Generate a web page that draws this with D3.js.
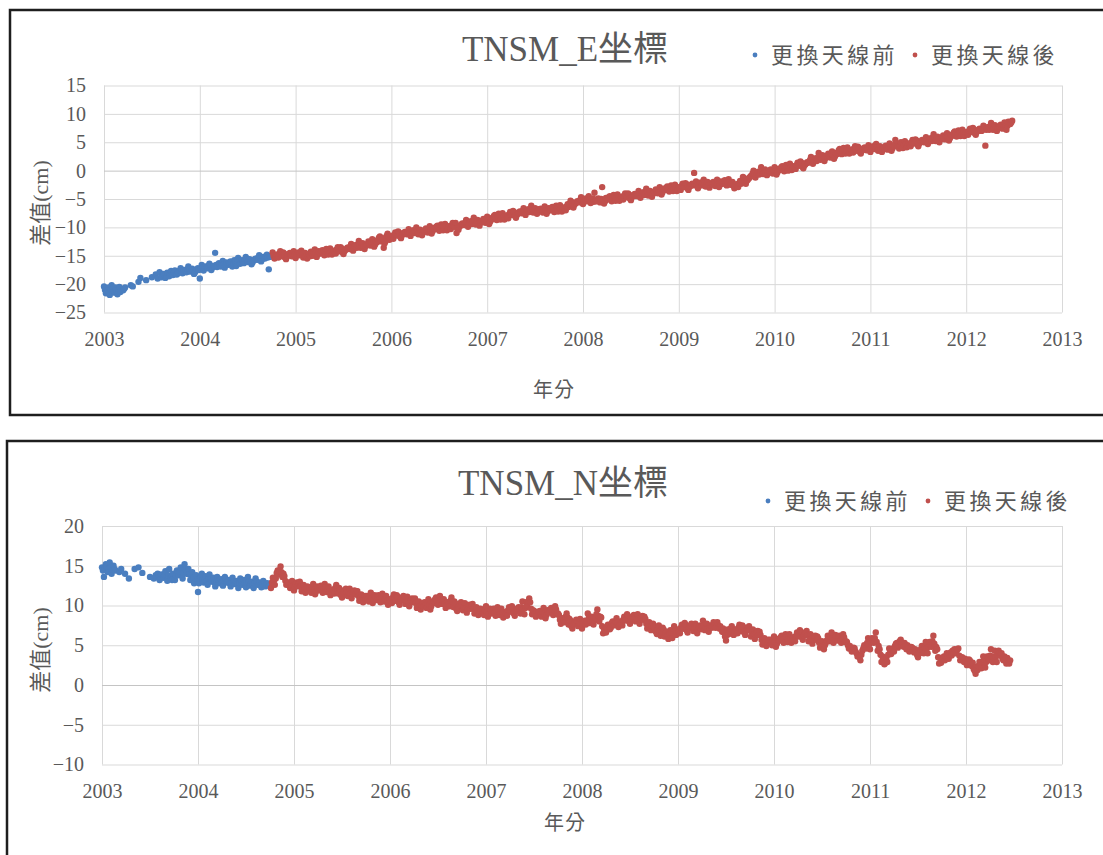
<!DOCTYPE html>
<html>
<head>
<meta charset="utf-8">
<script src="https://cdn.jsdelivr.net/npm/d3@7"></script>
<style>
  body { margin: 0; background: #ffffff; }
  svg { display: block; }
</style>
</head>
<body>
<svg id="chart" width="1103" height="855"></svg>
<script>
// ---- Axis ticks and labels ----
const yearTicks = [2003, 2004, 2005, 2006, 2007, 2008, 2009, 2010, 2011, 2012, 2013];
const eTicks = [-25, -20, -15, -10, -5, 0, 5, 10, 15];
const nTicks = [-10, -5, 0, 5, 10, 15, 20];
const seriesNames = ["更換天線前", "更換天線後"];
const panelTitles = ["TNSM_E坐標", "TNSM_N坐標"];
const yAxisTitle = "差值(cm)";
const xAxisTitle = "年分";

// ---- Solutions resampled every 0.01 yr (null = no solution) ----
const sampleStep = 0.01;
const beforeStart = 2003.00;   // first epoch of the old antenna
const afterStart = 2004.76;    // first epoch after the antenna change

// E component (cm), one row = 0.2 yr
const eBefore = [
  -20.4,-21.0,-21.6,-21.2,-20.9,-20.6,-21.9,-21.0,-20.2,-20.8,-21.3,-21.5,-20.6,-21.1,-21.8,-21.2,-20.5,-21.4,null,null,
  -21.1,-20.8,-20.6,null,null,null,null,null,-20.2,null,-20.4,null,null,null,null,null,-19.6,null,-18.9,null,
  null,null,null,null,-19.3,null,null,null,null,null,-18.8,null,null,null,-18.3,null,-19.0,null,-17.9,null,
  -18.8,-18.5,-18.2,null,-18.9,-18.5,-18.0,null,-18.6,-18.1,-17.7,null,-18.4,-18.0,-17.6,null,-18.3,-18.1,-17.9,-17.6,
  -17.2,-17.7,-18.1,-17.8,-17.5,-17.6,-17.9,-17.4,-16.9,-17.3,-17.8,-17.6,-17.3,-17.7,-18.2,-17.9,-17.6,-17.4,-17.2,-17.5,
  -19.0,-17.3,-16.6,-17.1,-17.6,-17.2,-16.9,-17.1,-17.2,-16.8,-16.4,-16.9,-17.5,-17.1,-16.8,-16.9,-14.5,-16.6,-17.0,-16.7,
  -16.3,-16.6,-16.9,-16.4,-15.9,-16.5,-17.1,-16.6,-16.2,-16.4,-16.6,-16.3,-16.0,-16.5,-16.9,-16.3,-15.8,-16.2,-16.8,-16.2,
  -15.4,-15.9,-16.4,-16.0,-15.8,-16.1,-16.3,-15.7,-15.2,-15.6,-16.1,-15.8,-15.6,-16.1,-16.5,-16.2,-15.9,-15.7,-15.5,-15.6,
  -15.7,-15.3,-14.9,-15.5,-16.0,-15.6,-15.2,-15.3,-15.5,-15.1,-14.8,-15.3,-17.4,-15.2,-15.1
];
const eAfter = [
  -14.4,-15.0,-15.5,-15.2,-14.8,-15.1,-15.3,-14.6,-14.2,-14.7,-15.1,-14.4,-14.6,-15.3,-15.6,-15.1,-14.9,-14.7,-14.5,-14.9,
  -15.1,-14.7,-14.2,-14.8,-15.4,-14.9,-14.6,-14.4,-14.9,-14.5,-14.1,-14.7,-15.3,-15.0,-14.5,-15.1,-15.5,-15.0,-14.7,-15.1,
  -14.3,-14.7,-15.0,-14.4,-13.9,-14.6,-15.2,-14.8,-14.2,-14.4,-14.6,-14.2,-14.0,-14.5,-14.9,-14.3,-13.8,-14.2,-14.8,-14.1,
  -13.7,-14.3,-14.8,-14.5,-14.1,-14.4,-14.6,-13.9,-13.5,-14.0,-14.2,-13.5,-13.7,-14.4,-14.7,-14.2,-14.0,-13.8,-13.6,-13.6,
  -13.8,-13.4,-12.9,-13.5,-14.1,-13.6,-13.3,-13.1,-13.6,-13.2,-12.4,-13.0,-13.6,-13.3,-12.8,-13.4,-13.8,-13.3,-13.0,-13.1,
  -12.5,-12.9,-13.2,-12.6,-12.1,-12.8,-13.4,-13.0,-12.4,-12.6,-12.2,-11.8,-11.6,-12.1,-12.5,-11.9,-13.6,-12.8,-12.4,-11.5,
  -11.1,-11.7,-12.2,-11.9,-11.5,-11.8,-12.0,-11.3,-10.9,-11.4,-11.4,-10.7,-10.9,-11.6,-11.9,-11.4,-11.2,-11.0,-10.8,-11.0,
  -11.2,-10.8,-10.3,-10.9,-11.5,-11.0,-10.7,-10.5,-11.0,-10.6,-10.0,-10.6,-11.2,-10.9,-10.4,-11.0,-11.4,-10.9,-10.6,-10.6,
  -10.2,-10.6,-10.9,-10.3,-9.8,-10.5,-11.1,-10.7,-10.1,-10.3,-10.3,-9.9,-9.7,-10.2,-10.6,-10.0,-9.5,-9.9,-10.5,-10.0,
  -9.4,-10.0,-10.5,-10.2,-9.8,-10.1,-10.3,-9.6,-9.2,-9.7,-9.9,-9.2,-11.0,-10.1,-10.4,-9.9,-9.7,-9.5,-9.3,-9.4,
  -9.6,-9.2,-8.7,-9.3,-9.9,-9.4,-9.1,-8.9,-9.4,-9.0,-8.3,-8.9,-9.5,-9.2,-8.7,-9.3,-9.7,-9.2,-8.9,-8.9,
  -8.5,-8.9,-9.2,-8.6,-8.1,-8.8,-9.4,-9.0,-8.4,-8.6,-8.4,-8.0,-7.8,-8.3,-8.7,-8.1,-7.6,-8.0,-8.6,-8.0,
  -7.5,-8.1,-8.6,-8.3,-7.9,-8.2,-8.4,-7.7,-7.3,-7.8,-7.8,-7.1,-7.3,-8.0,-8.3,-7.8,-7.6,-7.4,-7.2,-7.3,
  -7.5,-7.1,-6.6,-7.2,-7.8,-7.3,-7.0,-6.8,-7.3,-6.9,-6.2,-6.8,-7.4,-7.1,-6.6,-7.2,-7.6,-7.1,-6.8,-7.0,
  -6.7,-7.1,-7.4,-6.8,-6.3,-7.0,-7.6,-7.2,-6.6,-6.8,-7.0,-6.6,-6.4,-6.9,-7.3,-6.7,-6.2,-6.6,-7.2,-6.5,
  -6.1,-6.7,-7.2,-6.9,-6.5,-6.8,-7.0,-6.3,-5.9,-6.4,-6.0,-5.3,-5.5,-6.2,-6.5,-6.0,-5.8,-5.6,-5.4,-5.5,
  -5.6,-5.2,-4.7,-5.3,-5.9,-5.4,-5.1,-4.9,-5.4,-5.0,-4.5,-5.1,-5.7,-5.4,-4.9,-5.5,-3.9,-5.4,-5.1,-5.4,
  -4.9,-5.3,-5.6,-5.0,-2.9,-5.2,-5.8,-5.4,-4.8,-5.0,-5.1,-4.7,-4.5,-5.0,-5.4,-4.8,-4.3,-4.7,-5.3,-4.8,
  -4.2,-4.8,-5.3,-5.0,-4.6,-4.9,-5.1,-4.4,-4.0,-4.5,-4.7,-4.0,-4.2,-4.9,-5.2,-4.7,-4.5,-4.3,-4.1,-4.3,
  -4.5,-4.1,-3.6,-4.2,-4.8,-4.3,-4.0,-3.8,-4.3,-3.9,-3.2,-3.8,-4.4,-4.1,-3.6,-4.2,-4.6,-4.1,-3.8,-3.8,
  -3.3,-3.7,-4.0,-3.4,-2.9,-3.6,-4.2,-3.8,-3.2,-3.4,-3.4,-3.0,-2.8,-3.3,-3.7,-3.1,-2.6,-3.0,-3.6,-3.1,
  -2.5,-3.1,-3.6,-3.3,-2.9,-3.2,-3.4,-2.7,-2.3,-2.8,-2.9,-2.2,-2.4,-3.1,-3.4,-2.9,-2.7,-2.5,-2.3,-2.6,
  -0.4,-2.4,-1.9,-2.5,-3.1,-2.6,-2.3,-2.1,-2.6,-2.2,-1.6,-2.2,-2.8,-2.5,-2.0,-2.6,-3.0,-2.5,-2.2,-2.4,
  -2.0,-2.4,-2.7,-2.1,-1.6,-2.3,-2.9,-2.5,-1.9,-2.1,-2.3,-1.9,-1.7,-2.2,-2.6,-2.0,-1.5,-1.9,-2.5,-2.2,
  -2.0,-2.6,-3.1,-2.8,-2.4,-2.7,-2.9,-2.2,-1.8,-2.3,-1.8,-1.1,-1.3,-2.0,-2.3,-1.8,-1.6,-1.4,-1.2,-1.0,
  -0.9,-0.5,0.0,-0.6,-1.2,-0.7,-0.4,-0.2,-0.7,-0.3,0.6,0.0,-0.6,-0.3,0.2,-0.4,-0.8,-0.3,0.0,-0.2,
  0.2,-0.2,-0.5,0.1,0.6,-0.1,-0.7,-0.3,0.3,0.1,0.2,0.6,0.8,0.3,-0.1,0.5,1.0,0.6,0.0,0.6,
  1.2,0.6,0.1,0.4,0.8,0.5,0.3,1.0,1.4,0.9,0.9,1.6,1.4,0.7,0.4,0.9,1.1,1.3,1.5,1.4,
  1.5,1.9,2.4,1.8,1.2,1.7,2.0,2.2,1.7,2.1,3.1,2.5,1.9,2.2,2.7,2.1,1.7,2.2,2.5,2.6,
  3.0,2.6,2.3,2.9,3.4,2.7,2.1,2.5,3.1,2.9,3.2,3.6,3.8,3.3,2.9,3.5,4.0,3.6,3.0,3.5,
  4.1,3.5,3.0,3.3,3.7,3.4,3.2,3.9,4.3,3.8,3.5,4.2,4.0,3.3,3.0,3.5,3.7,3.9,4.1,3.8,
  3.6,4.0,4.5,3.9,3.3,3.8,4.1,4.3,3.8,4.2,4.7,4.1,3.5,3.8,4.3,3.7,3.3,3.8,4.1,3.9,
  4.4,4.0,3.7,4.3,4.8,4.1,3.5,3.9,4.5,4.3,5.4,4.6,4.8,4.3,3.9,4.5,5.0,4.6,4.0,4.6,
  5.2,4.6,4.1,4.4,4.8,4.5,4.3,5.0,5.4,4.9,4.8,5.5,5.3,4.6,4.3,4.8,5.0,5.2,5.4,5.2,
  5.0,5.4,5.9,5.3,4.7,5.2,5.5,5.7,5.2,5.6,6.4,5.8,5.2,5.5,6.0,5.4,5.0,5.5,5.8,5.7,
  6.2,5.8,5.5,6.1,6.6,5.9,5.3,5.7,6.3,6.1,6.3,6.7,6.9,6.4,6.0,6.6,7.1,6.7,6.1,6.6,
  7.2,6.6,6.1,6.4,6.8,6.5,6.3,7.0,7.4,6.9,6.8,7.5,7.3,6.6,6.3,6.8,7.0,7.2,7.4,7.2,
  7.0,7.4,7.9,7.3,4.4,7.2,7.5,7.7,7.2,7.6,8.4,7.8,7.2,7.5,8.0,7.4,7.0,7.5,7.8,7.7,
  8.1,7.7,7.4,8.0,8.5,7.8,7.2,7.9,8.6,8.4,8.2,8.5,8.8
];

// N component (cm), one row = 0.2 yr
const nBefore = [
  14.8,14.4,13.6,14.6,15.2,14.9,14.2,14.7,15.4,14.8,14.0,14.5,15.0,14.6,14.4,null,null,null,14.2,null,
  14.6,null,null,null,14.0,null,null,null,13.4,null,null,null,null,null,14.6,null,null,null,14.8,null,
  null,null,14.1,null,null,null,null,null,null,null,13.6,null,null,null,13.4,null,13.8,null,14.0,13.5,
  13.2,13.6,13.9,null,13.5,13.9,14.3,null,13.1,13.8,14.6,null,13.6,13.2,14.0,null,13.2,13.8,14.4,null,
  13.8,14.3,14.8,null,13.4,14.1,15.2,14.5,14.0,null,14.6,13.9,13.2,null,14.2,13.5,12.8,null,13.8,13.2,
  11.7,12.8,13.4,13.6,14.0,13.3,12.9,13.2,13.7,13.1,12.6,13.4,13.9,13.3,13.0,13.1,13.5,12.9,12.4,13.0,
  13.6,13.1,12.8,13.0,13.3,12.9,12.5,13.1,13.6,13.2,12.9,13.0,13.2,12.8,12.4,12.9,13.5,13.0,12.7,12.9,
  13.1,12.7,12.2,12.8,13.4,13.0,12.6,12.9,13.2,12.8,12.3,12.9,13.6,13.0,12.5,12.7,13.0,12.6,12.2,12.8,
  13.4,13.0,12.6,12.8,12.9,12.6,12.3,12.7,13.1,12.8,12.4,12.6,12.8,12.7,12.5
];
const nAfter = [
  12.2,12.9,13.5,13.1,12.6,13.4,14.1,14.4,13.9,14.3,14.9,14.2,13.6,14.0,13.7,13.1,12.6,12.7,12.9,12.6,
  12.2,12.6,13.1,12.5,11.9,12.4,12.7,12.9,12.4,12.8,13.0,12.4,11.8,12.1,12.6,12.0,11.6,12.1,12.4,11.9,
  12.3,11.9,11.6,12.2,12.7,12.0,11.4,11.8,12.4,12.2,11.9,12.3,12.5,12.0,11.6,12.2,12.7,12.3,11.7,12.0,
  12.4,11.8,11.3,11.6,12.0,11.7,11.5,12.2,12.6,12.1,11.5,12.2,12.0,11.3,11.0,11.5,11.7,11.9,12.1,11.6,
  11.2,11.6,12.1,11.5,10.9,11.4,11.7,11.9,11.4,11.8,11.8,11.2,10.6,10.9,11.4,10.8,10.4,10.9,11.2,10.8,
  11.2,10.8,10.5,11.1,11.6,10.9,10.3,10.7,11.3,11.1,10.7,11.1,11.3,10.8,10.4,11.0,11.5,11.1,10.5,10.8,
  11.2,10.6,10.1,10.4,10.8,10.5,10.3,11.0,11.4,10.9,10.6,11.3,11.1,10.4,10.1,10.6,10.8,11.0,11.2,10.7,
  10.2,10.6,11.1,10.5,9.9,10.4,10.7,10.9,10.4,10.8,10.9,10.3,9.7,10.0,10.5,9.9,9.5,10.0,10.3,9.9,
  10.4,10.0,9.7,10.3,10.8,10.1,9.5,9.9,10.5,10.3,10.4,10.8,11.0,10.5,10.1,10.7,11.2,10.8,10.2,10.6,
  10.8,10.2,9.7,10.0,10.4,10.1,9.9,10.6,11.0,10.5,9.8,10.5,10.3,9.6,9.3,9.8,10.0,10.2,10.4,10.0,
  9.4,9.8,10.3,9.7,9.1,9.6,9.9,10.1,9.6,10.0,10.2,9.6,9.0,9.3,9.8,9.2,8.8,9.3,9.6,9.2,
  9.5,9.1,8.8,9.4,9.9,9.2,8.6,9.0,9.6,9.4,9.0,9.4,9.6,9.1,8.7,9.3,9.8,9.4,8.8,9.2,
  9.6,9.0,8.5,8.8,9.2,8.9,8.7,9.4,9.8,9.3,9.2,9.9,9.7,9.0,8.7,9.2,9.4,9.6,9.8,9.3,
  9.0,9.8,10.5,9.6,8.9,9.7,10.4,10.0,10.5,10.9,10.4,9.6,8.9,9.4,9.3,9.0,8.6,9.2,8.9,9.2,
  9.3,8.9,8.6,9.2,9.7,9.0,8.4,8.8,9.4,9.2,9.1,9.5,9.7,9.2,8.8,9.4,9.9,9.5,8.9,9.0,
  8.8,8.2,7.7,8.0,8.4,8.1,7.9,8.6,9.0,8.5,7.6,8.3,8.1,7.4,7.1,7.6,7.8,8.0,8.2,7.8,
  7.4,7.8,8.3,7.7,7.1,7.6,7.9,8.1,7.6,8.0,9.0,8.4,7.8,8.1,8.6,8.0,7.6,8.1,8.4,8.9,
  9.5,8.7,8.0,8.6,8.5,7.4,6.5,7.0,6.9,6.6,7.2,7.6,7.5,7.0,7.2,7.8,8.0,7.5,7.6,8.0,
  8.4,7.8,7.3,7.6,8.0,7.7,7.5,8.2,8.6,8.1,8.2,8.9,8.7,8.0,7.7,8.2,8.4,8.6,8.8,8.4,
  8.0,8.4,8.9,8.3,7.7,8.2,8.5,8.7,8.2,8.6,8.3,7.7,7.1,7.4,7.9,7.3,6.9,7.4,7.7,7.3,
  7.1,6.7,6.4,7.0,7.5,6.8,6.2,6.6,7.2,7.0,6.1,6.5,6.7,6.2,5.8,6.4,6.9,6.5,5.9,6.6,
  7.4,6.8,6.3,6.6,7.0,6.7,6.5,7.2,7.6,7.1,7.1,7.8,7.6,6.9,6.6,7.1,7.3,7.5,7.7,7.2,
  6.8,7.2,7.7,7.1,6.5,7.0,7.3,7.5,7.0,7.4,8.1,7.5,6.9,7.2,7.7,7.1,6.7,7.2,7.5,7.2,
  7.4,7.9,7.5,7.2,7.8,7.9,7.5,7.1,7.4,7.0,6.7,7.1,6.6,6.1,5.6,6.3,7.0,6.4,6.7,7.1,
  7.4,6.8,6.3,6.6,7.0,6.7,6.5,7.2,7.6,7.1,6.8,7.5,7.3,6.6,6.3,6.8,7.0,7.2,7.4,6.9,
  6.1,6.5,7.0,6.4,5.8,6.3,6.6,6.8,6.3,6.7,6.3,5.7,5.1,5.4,5.9,5.3,4.9,5.4,5.7,5.3,
  5.7,5.3,5.0,5.6,6.1,5.4,4.8,5.2,5.8,5.6,5.6,6.0,6.2,5.7,5.3,5.9,6.4,6.0,5.4,5.8,
  6.4,5.8,5.3,5.6,6.0,5.7,5.5,6.2,6.6,6.1,6.2,6.9,6.7,6.0,5.7,6.2,6.4,6.6,6.8,6.3,
  5.5,5.9,6.4,5.8,5.2,5.7,6.0,6.2,5.7,6.1,5.9,5.3,4.7,5.0,5.5,4.9,4.5,5.0,5.3,5.6,
  6.2,5.8,5.5,6.1,6.6,5.9,5.3,5.7,6.3,6.1,5.6,6.0,6.2,5.7,5.3,5.9,6.4,6.0,5.4,5.5,
  5.4,5.0,4.6,4.9,4.6,4.2,4.3,4.7,4.6,4.2,4.0,3.6,3.7,3.5,3.1,3.8,4.3,4.6,5.0,4.8,
  4.6,5.3,5.9,5.1,4.5,5.4,5.9,5.4,5.3,5.9,6.6,5.4,4.3,4.9,4.5,3.8,2.9,3.6,3.2,2.6,
  2.8,3.4,2.9,3.8,4.6,4.1,3.9,4.4,4.6,4.2,4.9,5.2,5.3,4.7,5.0,5.5,5.7,5.0,5.3,4.8,
  5.3,4.9,4.5,5.0,4.6,4.2,4.3,4.8,4.7,4.4,4.1,4.5,4.1,3.8,3.5,4.1,4.0,4.5,4.9,4.4,
  4.0,4.7,5.4,4.6,4.0,4.8,5.4,5.0,4.8,5.5,6.2,5.2,4.3,4.8,4.5,3.5,2.7,3.4,2.8,3.2,
  3.2,3.6,3.1,3.6,4.0,3.6,3.3,3.8,4.1,3.7,4.3,4.0,4.5,4.0,4.1,4.5,4.6,3.7,3.1,3.4,
  3.5,3.1,2.9,3.3,2.9,2.5,2.7,3.2,3.1,2.7,2.4,2.8,2.0,1.8,1.4,2.3,1.9,2.4,2.9,2.5,
  2.1,2.9,3.6,2.8,2.2,2.9,3.6,3.3,3.1,3.7,4.5,3.6,2.9,3.5,4.3,3.6,2.9,3.7,4.3,4.0,
  3.7,4.0,3.3,3.1,3.6,3.3,2.7,3.4,3.0,2.7,3.1
];

// ---- Styling ----
const seriesColors = ["#4a7ebf", "#c0504d"];
const textGray = "#595959";
const gridGray = "#d9d9d9";
const zeroGray = "#c4c4c4";
const serif = "'Liberation Serif','Times New Roman','Noto Sans CJK TC',serif";
const cjk = "'Noto Sans CJK TC','Noto Sans CJK SC',sans-serif";

function toPoints(values, start) {
  return values
    .map((v, i) => ({ t: start + i * sampleStep, v }))
    .filter(d => d.v !== null);
}

const svg = d3.select("#chart");
svg.append("rect").attr("width", 1103).attr("height", 855).attr("fill", "#fff");

function drawPanel(cfg) {
  const g = svg.append("g");

  // outer frame
  g.append("rect")
    .attr("x", cfg.frame[0]).attr("y", cfg.frame[1])
    .attr("width", 1300).attr("height", cfg.frame[2])
    .attr("fill", "none").attr("stroke", "#1e1e1e").attr("stroke-width", 2.5);

  const x = d3.scaleLinear().domain([2003, 2013]).range([cfg.left, cfg.right]);
  const y = d3.scaleLinear().domain(cfg.yDomain).range([cfg.bottom, cfg.top]);

  // vertical grid + year labels
  const gx = g.append("g")
    .attr("transform", `translate(0,${cfg.bottom})`)
    .call(d3.axisBottom(x).tickValues(yearTicks).tickFormat(d3.format("d"))
      .tickSize(-(cfg.bottom - cfg.top)).tickPadding(19));
  gx.select(".domain").remove();
  gx.selectAll(".tick line").attr("stroke", gridGray).attr("stroke-width", 1);
  gx.selectAll(".tick text").attr("fill", textGray)
    .style("font-family", serif).style("font-size", "20px");

  // horizontal grid + value labels
  const gy = g.append("g")
    .attr("transform", `translate(${cfg.left},0)`)
    .call(d3.axisLeft(y).tickValues(cfg.yTicks).tickFormat(d3.format("d"))
      .tickSize(-(cfg.right - cfg.left)).tickPadding(18));
  gy.select(".domain").remove();
  gy.selectAll(".tick line")
    .attr("stroke", d => d === 0 ? zeroGray : gridGray).attr("stroke-width", 1);
  gy.selectAll(".tick text").attr("fill", textGray)
    .style("font-family", serif).style("font-size", "20px");

  // data points
  cfg.series.forEach((s, k) => {
    g.append("g").selectAll("circle")
      .data(toPoints(s.values, s.start))
      .join("circle")
      .attr("cx", d => x(d.t))
      .attr("cy", d => y(d.v))
      .attr("r", 3.2)
      .attr("fill", seriesColors[k]);
  });

  // title
  g.append("text")
    .attr("x", cfg.titlePos[0]).attr("y", cfg.titlePos[1])
    .attr("text-anchor", "middle")
    .attr("fill", textGray)
    .style("font-family", serif).style("font-size", "35px")
    .text(cfg.title);

  // legend
  seriesNames.forEach((name, k) => {
    const lx = cfg.legendPos[0] + k * 160;
    const ly = cfg.legendPos[1];
    g.append("circle").attr("cx", lx).attr("cy", ly).attr("r", 2.4)
      .attr("fill", seriesColors[k]);
    g.append("text")
      .attr("x", lx + 16).attr("y", ly + 8)
      .attr("fill", textGray)
      .attr("letter-spacing", "3.4px")
      .style("font-family", cjk).style("font-size", "22px")
      .text(name);
  });

  // axis titles
  g.append("text")
    .attr("transform", `translate(${cfg.yTitlePos[0]},${cfg.yTitlePos[1]}) rotate(-90)`)
    .attr("text-anchor", "middle")
    .attr("fill", textGray)
    .style("font-family", serif).style("font-size", "22px")
    .text(yAxisTitle);

  g.append("text")
    .attr("x", cfg.xTitlePos[0]).attr("y", cfg.xTitlePos[1])
    .attr("text-anchor", "middle")
    .attr("fill", textGray)
    .attr("letter-spacing", "1px")
    .style("font-family", cjk).style("font-size", "20px")
    .text(xAxisTitle);
}

drawPanel({
  frame: [10, 10, 405],
  left: 104, right: 1062, top: 85.5, bottom: 312.5,
  yDomain: [-25, 15], yTicks: eTicks,
  title: panelTitles[0], titlePos: [565, 61],
  legendPos: [755, 55],
  yTitlePos: [48, 203],
  xTitlePos: [554, 397],
  series: [
    { values: eBefore, start: beforeStart },
    { values: eAfter, start: afterStart }
  ]
});

drawPanel({
  frame: [7, 441, 700],
  left: 102, right: 1062, top: 526, bottom: 764.5,
  yDomain: [-10, 20], yTicks: nTicks,
  title: panelTitles[1], titlePos: [563, 495],
  legendPos: [768, 501],
  yTitlePos: [48, 650],
  xTitlePos: [565, 830],
  series: [
    { values: nBefore, start: beforeStart },
    { values: nAfter, start: afterStart }
  ]
});
</script>
</body>
</html>
